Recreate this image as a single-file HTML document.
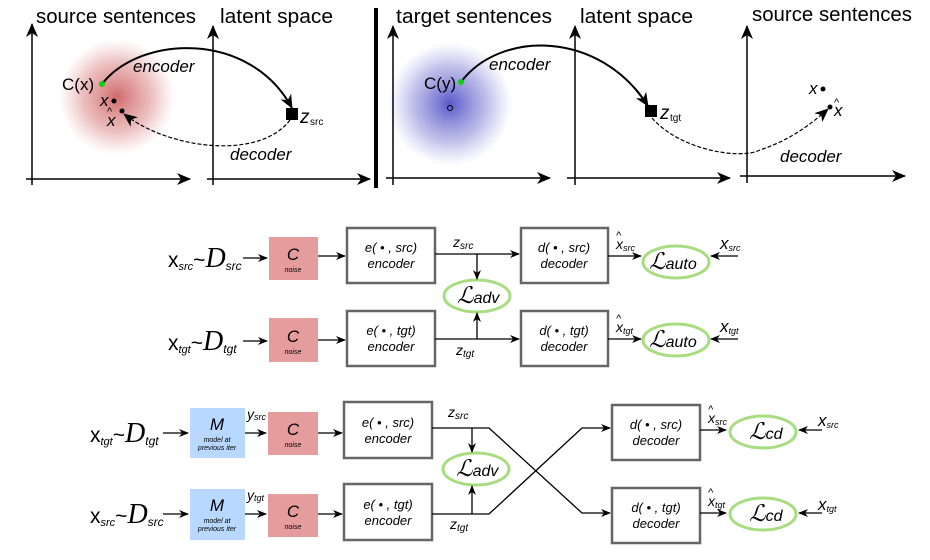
<!DOCTYPE html>
<html><head><meta charset="utf-8"><style>
html,body{margin:0;padding:0;background:#fff;}
svg{display:block;font-family:"Liberation Sans","DejaVu Sans",sans-serif;}
.it{font-style:italic}
</style></head><body>
<svg width="930" height="560" viewBox="0 0 930 560" xmlns="http://www.w3.org/2000/svg">
<defs>
<marker id="a" markerWidth="10" markerHeight="8" refX="9" refY="4" orient="auto" markerUnits="userSpaceOnUse"><path d="M0,0 L10,4 L0,8 L3,4 z" fill="#000"/></marker>
<marker id="b" markerWidth="14" markerHeight="12" refX="13" refY="6" orient="auto" markerUnits="userSpaceOnUse"><path d="M0,0 L14,6 L0,12 L4,6 z" fill="#000"/></marker>
<radialGradient id="rg"><stop offset="0" stop-color="#c0393b" stop-opacity="0.75"/><stop offset="0.6" stop-color="#d06060" stop-opacity="0.4"/><stop offset="1" stop-color="#e08080" stop-opacity="0"/></radialGradient>
<radialGradient id="bg"><stop offset="0" stop-color="#3a3ac0" stop-opacity="0.85"/><stop offset="0.6" stop-color="#7070d0" stop-opacity="0.45"/><stop offset="1" stop-color="#9090e0" stop-opacity="0"/></radialGradient>
</defs>

<circle cx="117" cy="97" r="58" fill="url(#rg)"/>
<circle cx="450" cy="104" r="62" fill="url(#bg)"/>
<g stroke="#000" stroke-width="1.5" fill="none">
<line x1="32" y1="185" x2="32" y2="24" marker-end="url(#b)"/>
<line x1="26" y1="179" x2="190" y2="179" marker-end="url(#b)"/>
<line x1="213" y1="185" x2="213" y2="26" marker-end="url(#b)"/>
<line x1="207" y1="179" x2="370" y2="179" marker-end="url(#b)"/>
<line x1="393" y1="185" x2="393" y2="26" marker-end="url(#b)"/>
<line x1="386" y1="178" x2="550" y2="178" marker-end="url(#b)"/>
<line x1="575" y1="185" x2="575" y2="26" marker-end="url(#b)"/>
<line x1="567" y1="178" x2="730" y2="178" marker-end="url(#b)"/>
<line x1="747" y1="183" x2="747" y2="26" marker-end="url(#b)"/>
<line x1="740" y1="176" x2="905" y2="176" marker-end="url(#b)"/>
</g>
<rect x="374" y="8" width="4" height="180" fill="#000"/>
<path d="M102,84 C140,35 250,30 292,108" stroke="#000" stroke-width="2" fill="none" marker-end="url(#b)"/>
<path d="M290,120 C260,160 170,150 124,114" stroke="#000" stroke-width="1.2" stroke-dasharray="4,2" fill="none" marker-end="url(#b)"/>
<path d="M461,82 C500,30 600,30 648,106" stroke="#000" stroke-width="2" fill="none" marker-end="url(#b)"/>
<path d="M652,118 C680,150 740,160 760,150 C790,140 810,125 828,109" stroke="#000" stroke-width="1.2" stroke-dasharray="4,2" fill="none" marker-end="url(#b)"/>
<rect x="286" y="108" width="12" height="12" fill="#000"/>
<rect x="645" y="105" width="12" height="12" fill="#000"/>
<circle cx="102" cy="84" r="3" fill="#1c1"/>
<circle cx="461" cy="82" r="3" fill="#1c1"/>
<circle cx="114" cy="101" r="2.5" fill="#000"/>
<circle cx="122" cy="111" r="2.5" fill="#000"/>
<circle cx="450" cy="108" r="2.5" fill="none" stroke="#000"/>
<circle cx="823" cy="89" r="2.5" fill="#000"/>
<circle cx="830" cy="107" r="2.5" fill="#000"/>
<g font-size="20" fill="#000">
<text x="36" y="23" textLength="160" lengthAdjust="spacingAndGlyphs">source sentences</text>
<text x="220" y="23" textLength="113" lengthAdjust="spacingAndGlyphs">latent space</text>
<text x="396" y="23" textLength="156" lengthAdjust="spacingAndGlyphs">target sentences</text>
<text x="580" y="23" textLength="113" lengthAdjust="spacingAndGlyphs">latent space</text>
<text x="752" y="21" textLength="160" lengthAdjust="spacingAndGlyphs">source sentences</text>
</g>
<g font-size="17" fill="#000">
<text x="62" y="90">C(x)</text>
<text x="424" y="89">C(y)</text>
<text x="100" y="106" class="it">x</text>
<text x="107" y="126" class="it">x</text><text x="107" y="115" font-size="11">^</text>
<text x="133" y="72" class="it">encoder</text>
<text x="230" y="160" class="it">decoder</text>
<text x="489" y="70" class="it">encoder</text>
<text x="780" y="162" class="it">decoder</text>
<text x="300" y="123" class="it" font-size="19">z</text><text x="310" y="125" font-size="10">src</text>
<text x="660" y="119" class="it" font-size="19">z</text><text x="670" y="121" font-size="10">tgt</text>
<text x="809" y="94" class="it">x</text>
<text x="834" y="116" class="it">x</text><text x="834" y="106" font-size="11">^</text>
</g>

<g fill="#e49c9c"><rect x="269" y="237" width="49" height="43"/><rect x="269" y="318" width="49" height="44"/><rect x="268" y="412" width="50" height="43"/><rect x="268" y="494" width="50" height="43"/></g>
<g fill="#b8d8ff"><rect x="190" y="408" width="55" height="50"/><rect x="190" y="489" width="55" height="51"/></g>
<g fill="#fff" stroke="#666" stroke-width="2.5">
<rect x="347" y="228" width="88" height="55"/><rect x="347" y="311" width="88" height="55"/>
<rect x="521" y="228" width="87" height="55"/><rect x="521" y="311" width="87" height="55"/>
<rect x="344" y="402" width="88" height="56"/><rect x="344" y="484" width="88" height="56"/>
<rect x="612" y="405" width="88" height="55"/><rect x="612" y="488" width="88" height="55"/>
</g>
<g fill="none" stroke="#a8dc80" stroke-width="3">
<ellipse cx="477" cy="296" rx="33" ry="16"/>
<ellipse cx="676" cy="262" rx="33" ry="16"/>
<ellipse cx="676" cy="340" rx="33" ry="16"/>
<ellipse cx="476" cy="469" rx="33" ry="16"/>
<ellipse cx="763" cy="432" rx="33" ry="16"/>
<ellipse cx="763" cy="514" rx="33" ry="16"/>
</g>
<g stroke="#000" stroke-width="1.3" fill="none">
<line x1="243" y1="258" x2="267" y2="258" marker-end="url(#a)"/>
<line x1="243" y1="341" x2="267" y2="341" marker-end="url(#a)"/>
<line x1="318" y1="256" x2="345" y2="256" marker-end="url(#a)"/>
<line x1="318" y1="340" x2="345" y2="340" marker-end="url(#a)"/>
<line x1="435" y1="254" x2="519" y2="254" marker-end="url(#a)"/>
<line x1="435" y1="339" x2="519" y2="339" marker-end="url(#a)"/>
<line x1="477" y1="254" x2="477" y2="279" marker-end="url(#a)"/>
<line x1="477" y1="339" x2="477" y2="313" marker-end="url(#a)"/>
<line x1="608" y1="256" x2="641" y2="256" marker-end="url(#a)"/>
<line x1="608" y1="339" x2="641" y2="339" marker-end="url(#a)"/>
<line x1="738" y1="256" x2="711" y2="256" marker-end="url(#a)"/>
<line x1="738" y1="339" x2="711" y2="339" marker-end="url(#a)"/>
<line x1="163" y1="433" x2="188" y2="433" marker-end="url(#a)"/>
<line x1="163" y1="514" x2="188" y2="514" marker-end="url(#a)"/>
<line x1="245" y1="433" x2="266" y2="433" marker-end="url(#a)"/>
<line x1="245" y1="514" x2="266" y2="514" marker-end="url(#a)"/>
<line x1="318" y1="433" x2="342" y2="433" marker-end="url(#a)"/>
<line x1="318" y1="514" x2="342" y2="514" marker-end="url(#a)"/>
<polyline points="432,428 489,428 582,513 610,513" marker-end="url(#a)"/>
<polyline points="432,514 489,514 582,428 610,428" marker-end="url(#a)"/>
<line x1="472" y1="428" x2="472" y2="452" marker-end="url(#a)"/>
<line x1="472" y1="514" x2="472" y2="486" marker-end="url(#a)"/>
<line x1="700" y1="430" x2="726" y2="430" marker-end="url(#a)"/>
<line x1="700" y1="513" x2="726" y2="513" marker-end="url(#a)"/>
<line x1="822" y1="430" x2="799" y2="430" marker-end="url(#a)"/>
<line x1="822" y1="513" x2="799" y2="513" marker-end="url(#a)"/>
</g>
<g fill="#000" text-anchor="middle">
<g font-size="17" class="it"><text x="293" y="260">C</text><text x="293" y="342">C</text><text x="293" y="435">C</text><text x="293" y="517">C</text>
<text x="217" y="430">M</text><text x="217" y="511">M</text></g>
<g font-size="7" class="it"><text x="293" y="272">noise</text><text x="293" y="354">noise</text><text x="293" y="447">noise</text><text x="293" y="529">noise</text>
<text x="217" y="442">model at</text><text x="217" y="450">previous iter</text>
<text x="217" y="523">model at</text><text x="217" y="531">previous iter</text></g>
<g font-size="13" class="it">
<text x="391" y="252">e( • , src)</text><text x="391" y="268">encoder</text>
<text x="391" y="335">e( • , tgt)</text><text x="391" y="351">encoder</text>
<text x="564" y="252">d( • , src)</text><text x="564" y="268">decoder</text>
<text x="564" y="335">d( • , tgt)</text><text x="564" y="351">decoder</text>
<text x="388" y="427">e( • , src)</text><text x="388" y="443">encoder</text>
<text x="388" y="509">e( • , tgt)</text><text x="388" y="525">encoder</text>
<text x="656" y="429">d( • , src)</text><text x="656" y="445">decoder</text>
<text x="656" y="512">d( • , tgt)</text><text x="656" y="528">decoder</text>
</g>
</g>
<g fill="#000" font-family="Liberation Serif,serif" class="it" font-size="23">
<text x="457" y="303">ℒ<tspan font-family="Liberation Sans" font-size="16">adv</tspan></text>
<text x="456" y="476">ℒ<tspan font-family="Liberation Sans" font-size="16">adv</tspan></text>
<text x="649" y="269">ℒ<tspan font-family="Liberation Sans" font-size="16">auto</tspan></text>
<text x="649" y="347">ℒ<tspan font-family="Liberation Sans" font-size="16">auto</tspan></text>
<text x="749" y="439">ℒ<tspan font-family="Liberation Sans" font-size="16">cd</tspan></text>
<text x="749" y="521">ℒ<tspan font-family="Liberation Sans" font-size="16">cd</tspan></text>
</g>
<g fill="#000" font-size="21">
<text x="168" y="267">x<tspan font-size="11" class="it" dy="3">src</tspan><tspan dy="-3">~</tspan><tspan font-family="Liberation Serif" class="it" font-size="28">D</tspan><tspan font-size="12" class="it" dy="3">src</tspan></text>
<text x="168" y="350">x<tspan font-size="11" class="it" dy="3">tgt</tspan><tspan dy="-3">~</tspan><tspan font-family="Liberation Serif" class="it" font-size="28">D</tspan><tspan font-size="12" class="it" dy="3">tgt</tspan></text>
<text x="90" y="442">x<tspan font-size="11" class="it" dy="3">tgt</tspan><tspan dy="-3">~</tspan><tspan font-family="Liberation Serif" class="it" font-size="28">D</tspan><tspan font-size="12" class="it" dy="3">tgt</tspan></text>
<text x="90" y="523">x<tspan font-size="11" class="it" dy="3">src</tspan><tspan dy="-3">~</tspan><tspan font-family="Liberation Serif" class="it" font-size="28">D</tspan><tspan font-size="12" class="it" dy="3">src</tspan></text>
</g>
<g fill="#000" font-size="14" class="it">
<text x="453" y="247">z<tspan font-size="10" dy="2">src</tspan></text>
<text x="456" y="355">z<tspan font-size="10" dy="2">tgt</tspan></text>
<text x="448" y="417">z<tspan font-size="10" dy="2">src</tspan></text>
<text x="450" y="529">z<tspan font-size="10" dy="2">tgt</tspan></text>
<text x="247" y="419">y<tspan font-size="9" dy="1">src</tspan></text>
<text x="247" y="500">y<tspan font-size="9" dy="1">tgt</tspan></text>
<text x="616" y="249">x<tspan font-size="9" dy="2">src</tspan></text><text x="616" y="239" font-size="11">^</text>
<text x="616" y="332">x<tspan font-size="9" dy="2">tgt</tspan></text><text x="616" y="322" font-size="11">^</text>
<text x="708" y="423">x<tspan font-size="9" dy="2">src</tspan></text><text x="708" y="413" font-size="11">^</text>
<text x="708" y="506">x<tspan font-size="9" dy="2">tgt</tspan></text><text x="708" y="496" font-size="11">^</text>
<text x="720" y="249" font-size="17">x<tspan font-size="9" dy="2">src</tspan></text>
<text x="720" y="332" font-size="17">x<tspan font-size="9" dy="2">tgt</tspan></text>
<text x="818" y="426" font-size="17">x<tspan font-size="9" dy="2">src</tspan></text>
<text x="818" y="510" font-size="17">x<tspan font-size="9" dy="2">tgt</tspan></text>
</g>
</svg>
</body></html>
